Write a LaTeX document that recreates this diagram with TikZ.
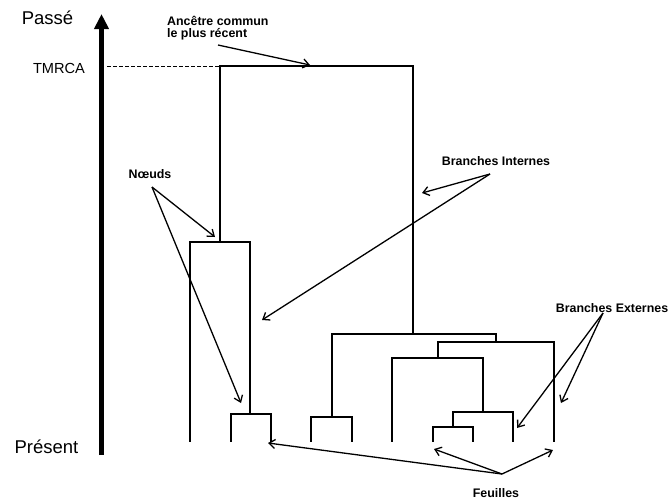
\documentclass[tikz,border=0pt]{standalone}
\usepackage{fontspec}
\setmainfont{Liberation Sans}
\usetikzlibrary{arrows.meta}
\begin{document}
\begin{tikzpicture}[x=1pt,y=-1pt,
  tree/.style={line width=1.8pt, line cap=rect},
  lbl/.style={font=\fontsize{12.4}{12.5}\selectfont\bfseries, inner sep=0pt, align=left},
  axislbl/.style={font=\fontsize{18.5}{20}\selectfont, inner sep=0pt},
  pointer/.style={line width=1.3pt, -{Straight Barb[length=6pt,width=9pt,line width=1.3pt]}}]
\useasboundingbox (0,0) rectangle (669,499);

% time axis
\coordinate (axb) at (101.5,455);
\coordinate (axt) at (101.5,14);
\draw[line width=5pt, -{Triangle[length=15pt,width=14pt]}] (axb) -- (axt);
\node[axislbl] (passe) at (47.5,18) {Passé};
\node[axislbl] (present) at (46.5,447) {Présent};
\node[font=\fontsize{14.6}{16}\selectfont, inner sep=0pt] (tmrca) at (59,68) {TMRCA};
\coordinate (dashA) at (107,66);
\coordinate (root) at (220,66);
\draw[line width=0.8pt, dash pattern=on 4pt off 2pt] (dashA) -- (root);

% tree
\draw[tree] (220,242) |- (413,66) -- (413,334);
\draw[tree] (190,441) |- (250,242) -- (250,414);
\draw[tree] (231,441) |- (271,414) -- (271,441);
\draw[tree] (332,417) |- (496,334) -- (496,342);
\draw[tree] (311,441) |- (352,417) -- (352,441);
\draw[tree] (438,358) |- (554,342) -- (554,441);
\draw[tree] (392,441) |- (483,358) -- (483,412);
\draw[tree] (453,427) |- (513,412) -- (513,441);
\draw[tree] (433,441) |- (473,427) -- (473,441);

% labels
\node[lbl, anchor=west] (anc) at (167,28) {Ancêtre commun\\le plus récent};
\node[lbl] (noeuds) at (150,174) {Nœuds};
\node[lbl] (bint) at (496,161) {Branches Internes};
\node[lbl] (bext) at (612,308) {Branches Externes};
\node[lbl] (feu) at (496,493) {Feuilles};

% arrow origins and targets
\coordinate (ancO) at (218,45);  \coordinate (ancT) at (310,65);
\coordinate (noO) at (152,187);  \coordinate (noT1) at (215,237); \coordinate (noT2) at (241,403);
\coordinate (biO) at (490,174);  \coordinate (biT1) at (422,193); \coordinate (biT2) at (262,320);
\coordinate (beO) at (603,313);  \coordinate (beT1) at (517,428); \coordinate (beT2) at (561,403);
\coordinate (feO) at (502,474);  \coordinate (feT1) at (434,449); \coordinate (feT2) at (553,450); \coordinate (feT3) at (268,443);

\draw[pointer] (ancO) -- (ancT);
\draw[pointer] (noO) -- (noT1);
\draw[pointer] (noO) -- (noT2);
\draw[pointer] (biO) -- (biT1);
\draw[pointer] (biO) -- (biT2);
\draw[pointer] (beO) -- (beT1);
\draw[pointer] (beO) -- (beT2);
\draw[pointer] (feO) -- (feT1);
\draw[pointer] (feO) -- (feT2);
\draw[pointer] (feO) -- (feT3);
\end{tikzpicture}
\end{document}
